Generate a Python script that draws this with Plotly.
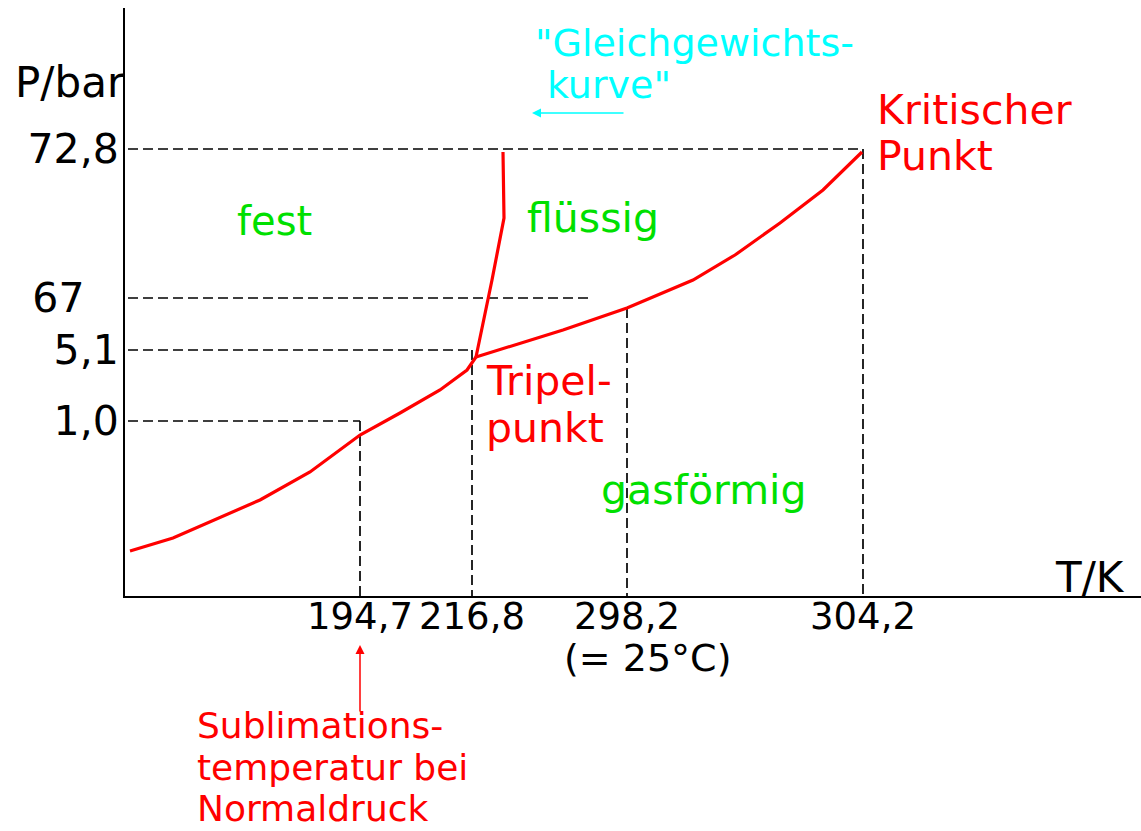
import plotly.graph_objects as go

FONT = "DejaVu Sans"
RED = "#FF0000"
GREEN = "#00E000"
CYAN = "#00FFFF"
INK = "#000000"

# Schematic (not-to-scale) phase diagram of CO2.
# Axis units are arbitrary schematic units; ticks carry the real values.
T_tick_pos = [235, 347, 502, 738]
T_tick_text = ["194,7", "216,8", "298,2", "304,2"]
P_tick_pos = [447, 298, 246, 175]
P_tick_text = ["72,8", "67\u2007\u2009", "5,1", "1,0"]

# Sublimation curve (solid <-> gas)
sub_x = [5, 48, 135, 185, 235, 275, 315, 342, 351]
sub_y = [45, 58, 96, 124, 161, 183, 206, 226, 239]
# Melting curve (solid <-> liquid)
melt_x = [351, 367, 379, 378]
melt_y = [239, 316, 378, 444]
# Vapour pressure curve (liquid <-> gas), ends at the critical point
vap_x = [351, 438, 502, 568, 610, 655, 698, 737]
vap_y = [239, 266, 288, 316, 341, 373, 406, 444]

# end of the 67-bar guide (schematic units)
p67_guide_end = 463

X_RANGE = [0, 1016]
Y_RANGE = [0, 588]

fig = go.Figure()

# dashed guide lines built from the tick positions
gx, gy = [], []
def seg(x0, y0, x1, y1):
    gx.extend([x0, x1, None])
    gy.extend([y0, y1, None])

seg(3, P_tick_pos[0], T_tick_pos[3], P_tick_pos[0])
seg(T_tick_pos[3], P_tick_pos[0], T_tick_pos[3], 0)
seg(3, P_tick_pos[1], p67_guide_end, P_tick_pos[1])
seg(vap_x[2], vap_y[2], vap_x[2], 0)
seg(3, P_tick_pos[2], T_tick_pos[1], P_tick_pos[2])
seg(T_tick_pos[1], P_tick_pos[2], T_tick_pos[1], 0)
seg(3, P_tick_pos[3], T_tick_pos[0], P_tick_pos[3])
seg(T_tick_pos[0], P_tick_pos[3], T_tick_pos[0], 0)

fig.add_trace(go.Scatter(x=gx, y=gy, mode="lines",
                         line=dict(color=INK, width=1.7, dash="10px,5px"),
                         hoverinfo="skip", name="Hilfslinien"))

for nm, xs, ys in [("Sublimation", sub_x, sub_y),
                   ("Schmelzen", melt_x, melt_y),
                   ("Verdampfen", vap_x, vap_y)]:
    fig.add_trace(go.Scatter(x=xs, y=ys, mode="lines", name=nm,
                             line=dict(color=RED, width=3.2),
                             cliponaxis=False))

def px(u):
    return u / (X_RANGE[1] - X_RANGE[0])

def py(u):
    return u / (Y_RANGE[1] - Y_RANGE[0])

ann = []
def txt(x, y, s, color, size, xanchor="left"):
    ann.append(dict(x=px(x), y=py(y), xref="paper", yref="paper", text=s,
                    showarrow=False, xanchor=xanchor, yanchor="middle",
                    font=dict(family=FONT, size=size, color=color)))

txt(-112, 513, "P/bar", "black", 42)
txt(928, 19, "T/K", "black", 42)
txt(149, 375, "fest", GREEN, 40, "center")
txt(468, 378, "flüssig", GREEN, 41, "center")
txt(579, 106, "gasförmig", GREEN, 41, "center")
txt(359, 215, "Tripel-", RED, 41)
txt(359, 168, "punkt", RED, 41)
txt(750, 486, "Kritischer", RED, 41)
txt(750, 440, "Punkt", RED, 41)
txt(408, 553, "\"Gleichgewichts-", CYAN, 38)
txt(420, 511, "kurve\"", CYAN, 38)
txt(522, -62, "(= 25°C)", "black", 38, "center")
txt(70, -129, "Sublimations-", RED, 36)
txt(70, -171, "temperatur bei", RED, 36)
txt(70, -212, "Normaldruck", RED, 36)

# arrows
ann.append(dict(x=407, y=483, ax=500, ay=483, xref="x", yref="y",
                axref="x", ayref="y", text="", showarrow=True,
                arrowhead=2, arrowsize=1.2, arrowwidth=1.5, arrowcolor=CYAN))
ann.append(dict(x=px(T_tick_pos[0]), y=py(-49), ax=0, ay=68,
                xref="paper", yref="paper", axref="pixel", ayref="pixel",
                text="", showarrow=True,
                arrowhead=2, arrowsize=1.2, arrowwidth=1.5, arrowcolor=RED))

fig.update_layout(
    width=1141, height=831,
    margin=dict(l=125, r=0, t=8, b=235),
    plot_bgcolor="white", paper_bgcolor="white",
    showlegend=False,
    annotations=ann,
)
fig.update_xaxes(range=X_RANGE, showgrid=False, zeroline=False,
                 showline=True, linecolor="black", linewidth=2,
                 tickvals=T_tick_pos, ticktext=T_tick_text, ticks="",
                 tickfont=dict(family=FONT, size=37, color="black"),
                 ticklabelstandoff=-13, fixedrange=True)
fig.update_yaxes(range=Y_RANGE, showgrid=False, zeroline=False,
                 showline=True, linecolor="black", linewidth=2,
                 tickvals=P_tick_pos, ticktext=P_tick_text, ticks="",
                 tickfont=dict(family=FONT, size=41, color="black"),
                 ticklabelstandoff=-4, fixedrange=True)

fig.write_html("out.html", config={"displayModeBar": False},
               post_script="document.body.style.margin='0';")
